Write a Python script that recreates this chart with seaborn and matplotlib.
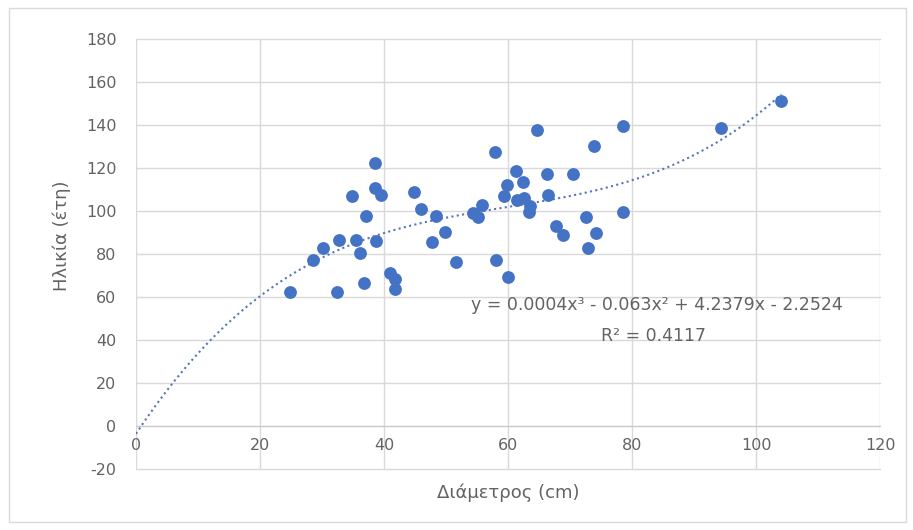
import numpy as np
import pandas as pd
import matplotlib
matplotlib.use("Agg")
import matplotlib.pyplot as plt
import seaborn as sns
from matplotlib.patches import Rectangle

# ---- data ----
diameter = [24.9, 32.4, 28.6, 30.2, 32.8, 35.5, 36.2, 38.7, 36.8, 37.1,
            34.9, 38.5, 38.5, 39.5, 40.9, 41.8, 41.8, 44.8, 45.9, 48.4,
            47.7, 49.9, 51.6, 54.3, 55.2, 55.8, 57.9, 58.1, 60.0, 59.4,
            59.8, 61.3, 62.4, 61.4, 62.5, 63.4, 63.5, 64.6, 66.5, 66.3,
            70.5, 73.9, 78.5, 94.3, 104.1, 67.7, 68.9, 72.6, 74.2, 72.9,
            78.5]
age = [62.5, 62.5, 77.2, 82.7, 86.5, 86.5, 80.6, 85.9, 66.7, 97.7,
       107.0, 122.5, 110.6, 107.4, 71.0, 68.2, 63.6, 109.0, 100.8, 97.7,
       85.7, 90.4, 76.4, 98.9, 97.4, 102.8, 127.6, 77.2, 69.4, 107.0,
       112.1, 118.7, 113.6, 105.1, 105.9, 99.7, 102.5, 137.7, 107.4, 117.2,
       117.2, 130.2, 139.5, 138.5, 151.3, 93.0, 88.8, 97.0, 89.6, 82.6,
       99.7]
x_ticks = [0, 20, 40, 60, 80, 100, 120]
y_ticks = [-20, 0, 20, 40, 60, 80, 100, 120, 140, 160, 180]
eq_text = "y = 0.0004x³ - 0.063x² + 4.2379x - 2.2524"
r2_text = "R² = 0.4117"
x_title = "Διάμετρος (cm)"
y_title = "Ηλικία (έτη)"

df = pd.DataFrame({"d": diameter, "a": age})

sns.set_style("white")
plt.rcParams["font.family"] = ["DejaVu Sans"]
plt.rcParams["axes.unicode_minus"] = False

fig = plt.figure(figsize=(9.13, 5.30), dpi=100)
ax = fig.add_axes([136/913, 1-469/530, (880-136)/913, (469-39)/530])

grid_c = "#d9d9d9"
text_c = "#636363"
blue = "#4472C4"

sns.scatterplot(data=df, x="d", y="a", ax=ax, color=blue, s=85,
                edgecolor=blue, linewidth=0, zorder=3)

# cubic trendline (fit of the data, as Excel does)
coef = np.polyfit(df["d"], df["a"], 3)
xs = np.linspace(0, max(diameter), 300)
ax.plot(xs, np.polyval(coef, xs), color="#5577b8", lw=1.5,
        linestyle=(0, (1, 1.6)), zorder=2)

ax.set_xlim(0, 120)
ax.set_ylim(-20, 180)
ax.set_xticks(x_ticks)
ax.set_yticks(y_ticks)
ax.grid(True, color=grid_c, lw=1)
for gl in ax.get_xgridlines() + ax.get_ygridlines():
    gl.set_clip_on(False)
ax.set_axisbelow(True)
for s in ["top", "right", "left"]:
    ax.spines[s].set_visible(False)
ax.spines["bottom"].set_position(("data", 0))
ax.spines["bottom"].set_color("#c8c8c8")
ax.tick_params(axis="both", length=0, colors=text_c, labelsize=11.5)
ax.tick_params(axis="x", pad=9)
ax.tick_params(axis="y", pad=14)

ax.set_xlabel("")
ax.set_ylabel("")
fig.text(508/913, 1-493/530, x_title, ha="center", va="center",
         color=text_c, fontsize=13)
fig.text(62/913, 1-236/530, y_title, ha="center", va="center",
         color=text_c, fontsize=13, rotation=90)

ax.text(84.0, 56.3, eq_text, ha="center", va="center", color=text_c, fontsize=12.5)
ax.text(83.4, 42.0, r2_text, ha="center", va="center", color=text_c, fontsize=12.5)

fig.patches.append(Rectangle((9/913, 1-522/530), (906-9)/913, (522-8)/530,
                             transform=fig.transFigure, fill=False,
                             edgecolor=grid_c, lw=1))

fig.savefig("out.png", dpi=100)
